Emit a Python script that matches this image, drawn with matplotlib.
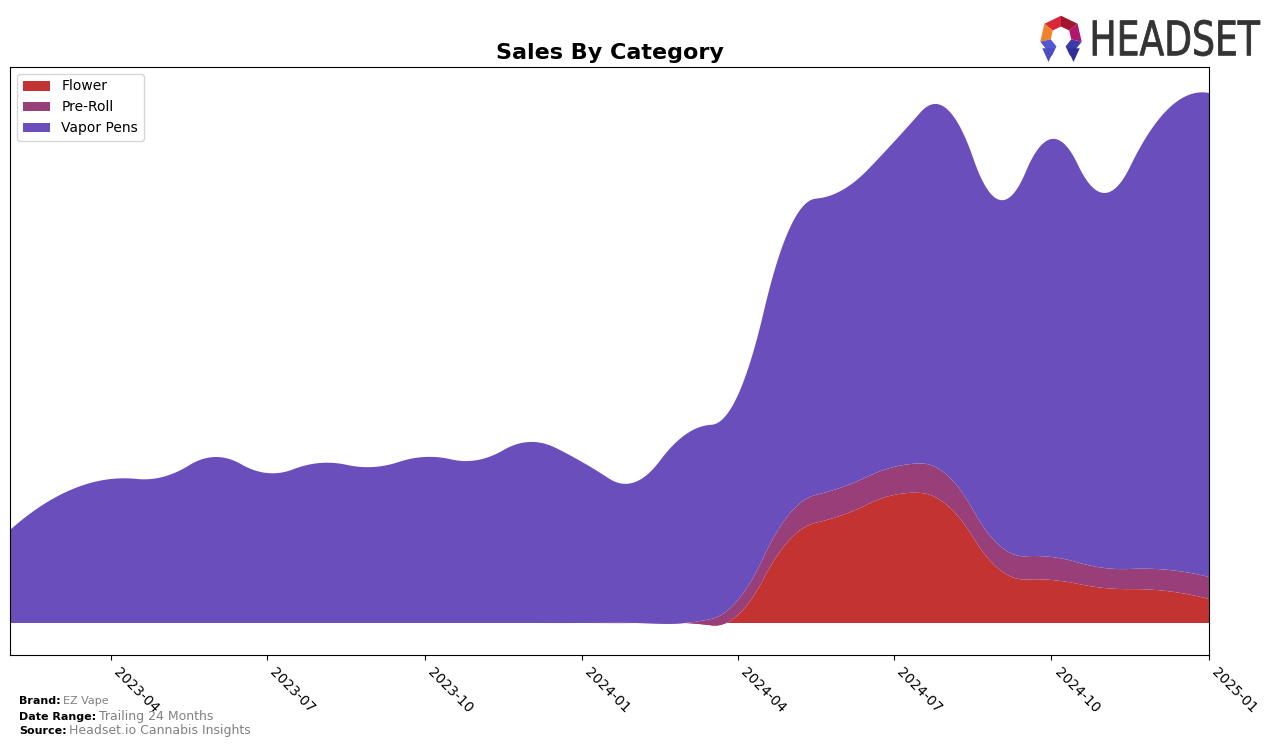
import numpy as np
import pandas as pd
import matplotlib
matplotlib.use("Agg")
import matplotlib.pyplot as plt
import matplotlib.dates as mdates
from matplotlib.textpath import TextPath
from matplotlib.patches import PathPatch, Polygon
from matplotlib.font_manager import FontProperties
from matplotlib.transforms import Affine2D

# monthly sales (arbitrary units), Feb 2023 .. Jan 2025
months = pd.date_range("2023-02-01", "2025-01-01", freq="MS")
flower = [0, 0, 0, 0, 0, 0, 0, 0, 0, 0, 0, 0, 0, 0,
          8, 83, 108, 128, 118, 53, 43, 35, 33, 24]
pre_roll = [0, 0, 0, 0, 0, 0, 0, 0, 0, 0, 0, 0, 0, 0,
            15, 26, 28, 28, 30, 24, 23, 20, 21, 22]
vapor_pens = [93, 127, 144, 146, 166, 150, 160, 156, 166, 163, 181, 161,
              141, 188, 205, 285, 297, 325, 366, 346, 418, 375, 446, 484]
categories = ["Flower", "Pre-Roll", "Vapor Pens"]
colors = ["#c23332", "#983f79", "#6a4ebc"]


def bspline_basis(t, k, xx):
    m = len(t) - 1
    B = np.zeros((len(xx), m))
    for i in range(m):
        B[:, i] = (t[i] <= xx) & (xx < t[i + 1])
    last = np.nonzero(t[:-1] < t[1:])[0].max()
    B[xx >= t[-1], last] = 1.0
    for d in range(1, k + 1):
        Bn = np.zeros((len(xx), m - d))
        for i in range(m - d):
            den1 = t[i + d] - t[i]
            den2 = t[i + d + 1] - t[i + 1]
            if den1 > 0:
                Bn[:, i] += (xx - t[i]) / den1 * B[:, i]
            if den2 > 0:
                Bn[:, i] += (t[i + d + 1] - xx) / den2 * B[:, i + 1]
        B = Bn
    return B


def smooth(x, y, xs):
    # quadratic interpolating spline, knots at midpoints
    k = 2
    mid = (x[1:] + x[:-1]) / 2.0
    t = np.r_[[x[0]] * (k + 1), mid[1:-1], [x[-1]] * (k + 1)]
    c = np.linalg.solve(bspline_basis(t, k, x), np.asarray(y, float))
    return bspline_basis(t, k, xs) @ c


x = mdates.date2num(months.to_pydatetime())
xs = np.linspace(x[0], x[-1], 800)
series = [smooth(x, s, xs) for s in (flower, pre_roll, vapor_pens)]

fig = plt.figure(figsize=(12.76, 7.47), dpi=100)
ax = fig.add_axes([10 / 1276, 92 / 747, 1199 / 1276, 588 / 747])
ax.stackplot(xs, *series, colors=colors, labels=categories)

ax.set_xlim(x[0], x[-1])
ax.set_ylim(-32, 556)
ax.set_yticks([])
ax.xaxis.set_major_locator(mdates.MonthLocator(bymonth=[1, 4, 7, 10]))
ax.xaxis.set_major_formatter(mdates.DateFormatter("%Y-%m"))
plt.setp(ax.get_xticklabels(), rotation=-45, ha="left", fontsize=10)
ax.set_title("Sales By Category", fontsize=16, fontweight="bold", pad=6)
ax.legend(loc="upper left", fontsize=10)

# footer
renderer = fig.canvas.get_renderer()
footer = [("Brand:", "EZ Vape", 0.0576, 8),
          ("Date Range:", "Trailing 24 Months", 0.0368, 9),
          ("Source:", "Headset.io Cannabis Insights", 0.0174, 9)]
for key, val, y, size in footer:
    t = fig.text(19 / 1276, y, key, fontsize=8, fontweight="bold")
    bb = t.get_window_extent(renderer)
    fig.text(bb.x1 / 1276 + 0.002, y, val, fontsize=size, color="gray")

# logo text
tp = TextPath((0, 0), "HEADSET", size=1, prop=FontProperties(family="DejaVu Sans"))
ext = tp.get_extents()
sx = (1260 - 1093) / ext.width / 1276
sy = (56 - 20) / ext.height / 747
tr = Affine2D().translate(-ext.x0, -ext.y0).scale(sx, sy).translate(1093 / 1276, (747 - 56) / 747)
fig.patches.append(PathPatch(tp, transform=tr + fig.transFigure, color="#333333", lw=0.6))

# logo icon
lax = fig.add_axes([1036 / 1276, (747 - 62) / 747, 50 / 1276, 50 / 747])
lax.set_xlim(-1, 1)
lax.set_ylim(-1, 1)
lax.axis("off")
ang = np.deg2rad(90 + np.arange(8) * 360 / 7)
R, r = 0.85, 0.42
seg_colors = ["#d8283a", "#f0822a", "#5458d0", None, "#3b3ba8", "#b3166e", "#a0162e"]
for i, col in enumerate(seg_colors):
    if col is None:
        continue
    a0, a1 = ang[i], ang[i + 1]
    pts = [(R * np.cos(a0), R * np.sin(a0)), (R * np.cos(a1), R * np.sin(a1)),
           (r * np.cos(a1), r * np.sin(a1)), (r * np.cos(a0), r * np.sin(a0))]
    lax.add_patch(Polygon(pts, closed=True, color=col, lw=0))
for sgn, col in ((-1, "#4a4ec0"), (1, "#2e2e96")):
    lax.add_patch(Polygon([(sgn * 0.75, -0.45), (sgn * 0.25, -0.45), (sgn * 0.5, -1.0)],
                          closed=True, color=col, lw=0))

fig.savefig("out.png", dpi=100)
